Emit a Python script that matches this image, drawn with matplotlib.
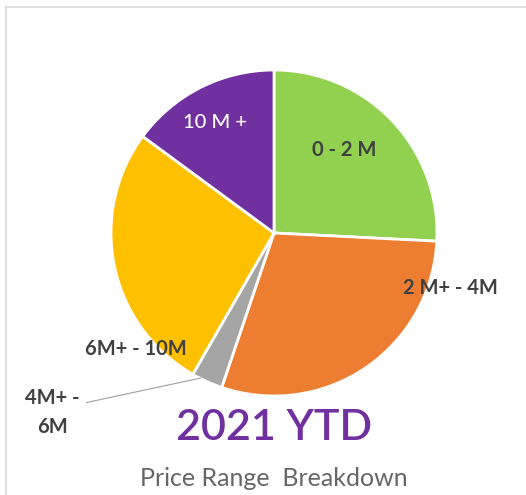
import matplotlib.pyplot as plt
from matplotlib.lines import Line2D

labels = ['0 - 2 M', '2 M+ - 4M', '4M+ -\n6M', '6M+ - 10M', '10 M +']
shares = [25.8, 29.4, 3.1, 26.8, 14.9]
colors = ['#92D050', '#ED7D31', '#A5A5A5', '#FFC000', '#7030A0']
text_colors = ['#404040', '#404040', '#404040', '#404040', 'white']
# label spots in pie data units (radius = 1)
label_xy = [(0.43, 0.51), (1.08, -0.34), (-1.36, -1.10), (-0.85, -0.71), (-0.36, 0.68)]

plt.rcParams['font.family'] = ['Lato', 'DejaVu Sans']

fig = plt.figure(figsize=(5.26, 4.95), dpi=100)
R = 163
cx, cy = 274, 233
ax = fig.add_axes([(cx - R) / 526, (495 - cy - R) / 495, 2 * R / 526, 2 * R / 495])
ax.pie(shares, colors=colors, startangle=90, counterclock=False, radius=1,
       wedgeprops=dict(edgecolor='white', linewidth=2))
ax.set_xlim(-1, 1)
ax.set_ylim(-1, 1)
ax.axis('off')

for lab, (x, y), c in zip(labels, label_xy, text_colors):
    ax.text(x, y, lab, color=c, fontsize=14.5, ha='center', va='center',
            fontweight='bold' if c != 'white' else 'medium', linespacing=1.6)

# leader line for the small slice
ax.add_line(Line2D([-0.45, -1.15], [-0.89, -1.04], color='#A0A0A0', lw=0.8, clip_on=False))

fig.text(cx / 526, 1 - 428 / 495, '2021 YTD', color='#7030A0', fontsize=31,
         ha='center', va='center', fontweight='semibold')
fig.text(cx / 526, 1 - 478 / 495, 'Price Range  Breakdown', color='#666666',
         fontsize=18, ha='center', va='center')

# light frame
fig.add_artist(Line2D([6 / 526, 6 / 526], [0, 1 - 7 / 495], color='#D9D9D9', lw=1.2))
fig.add_artist(Line2D([6 / 526, 1], [1 - 7 / 495, 1 - 7 / 495], color='#D9D9D9', lw=1.2))

fig.savefig('out.png', dpi=100)
